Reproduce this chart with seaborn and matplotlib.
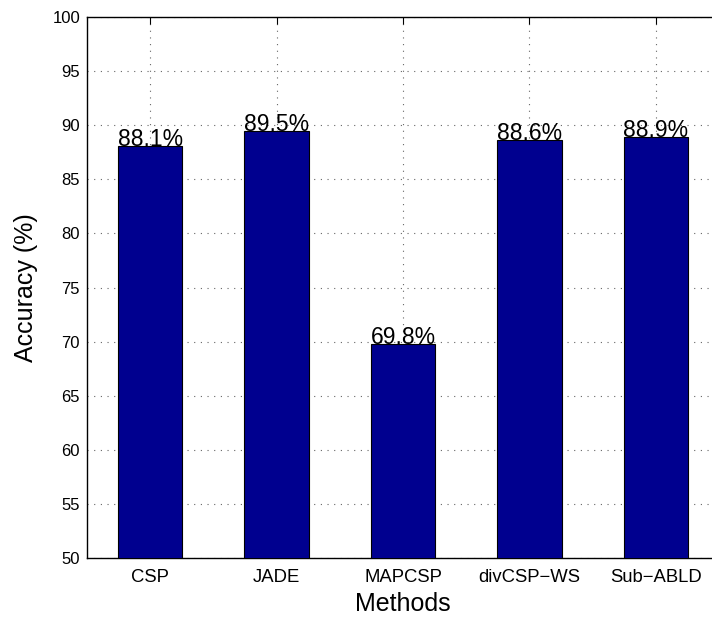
import matplotlib
matplotlib.use("Agg")
import matplotlib.pyplot as plt
import seaborn as sns
import pandas as pd

methods = ["CSP", "JADE", "MAPCSP", "divCSP\u2212WS", "Sub\u2212ABLD"]
accuracy = [88.1, 89.5, 69.8, 88.6, 88.9]
yticks = list(range(50, 101, 5))

sns.set_style("white")
plt.rcParams['font.family'] = ['Liberation Sans', 'DejaVu Sans']
plt.rcParams.update({"text.color": "black", "axes.labelcolor": "black",
                     "xtick.color": "black", "ytick.color": "black"})

df = pd.DataFrame({"Methods": methods, "Accuracy": accuracy})

fig = plt.figure(figsize=(7.12, 6.21), dpi=100)
# axes run past the right edge of the image, as in the reference
ax = fig.add_axes([87 / 712, 63 / 621, 632 / 712, 541 / 621])

sns.barplot(data=df, x="Methods", y="Accuracy", color="#00008F", saturation=1,
            width=0.51, edgecolor="black", linewidth=0.8, ax=ax, zorder=3)

ax.set_xlim(-0.5, 4.5)
ax.set_ylim(50, 100)
ax.set_yticks(yticks)
ax.grid(True, linestyle=(0, (1, 5)), color="#666666", linewidth=0.8, zorder=0)
ax.set_axisbelow(True)

for i, v in enumerate(accuracy):
    ax.text(i, v, f"{v:.1f}%", ha="center", va="baseline", fontsize=16.5, zorder=4)

ax.tick_params(direction="in", top=True, right=True, length=5, width=0.8)
ax.tick_params(axis="x", labelsize=13.3, pad=8)
ax.tick_params(axis="y", labelsize=12, pad=5)
for s in ax.spines.values():
    s.set_color("black")
    s.set_linewidth(1)

ax.set_xlabel("Methods", fontsize=18, labelpad=4)
ax.set_ylabel("Accuracy (%)", fontsize=18, labelpad=10)

fig.savefig("out.png", dpi=100)
